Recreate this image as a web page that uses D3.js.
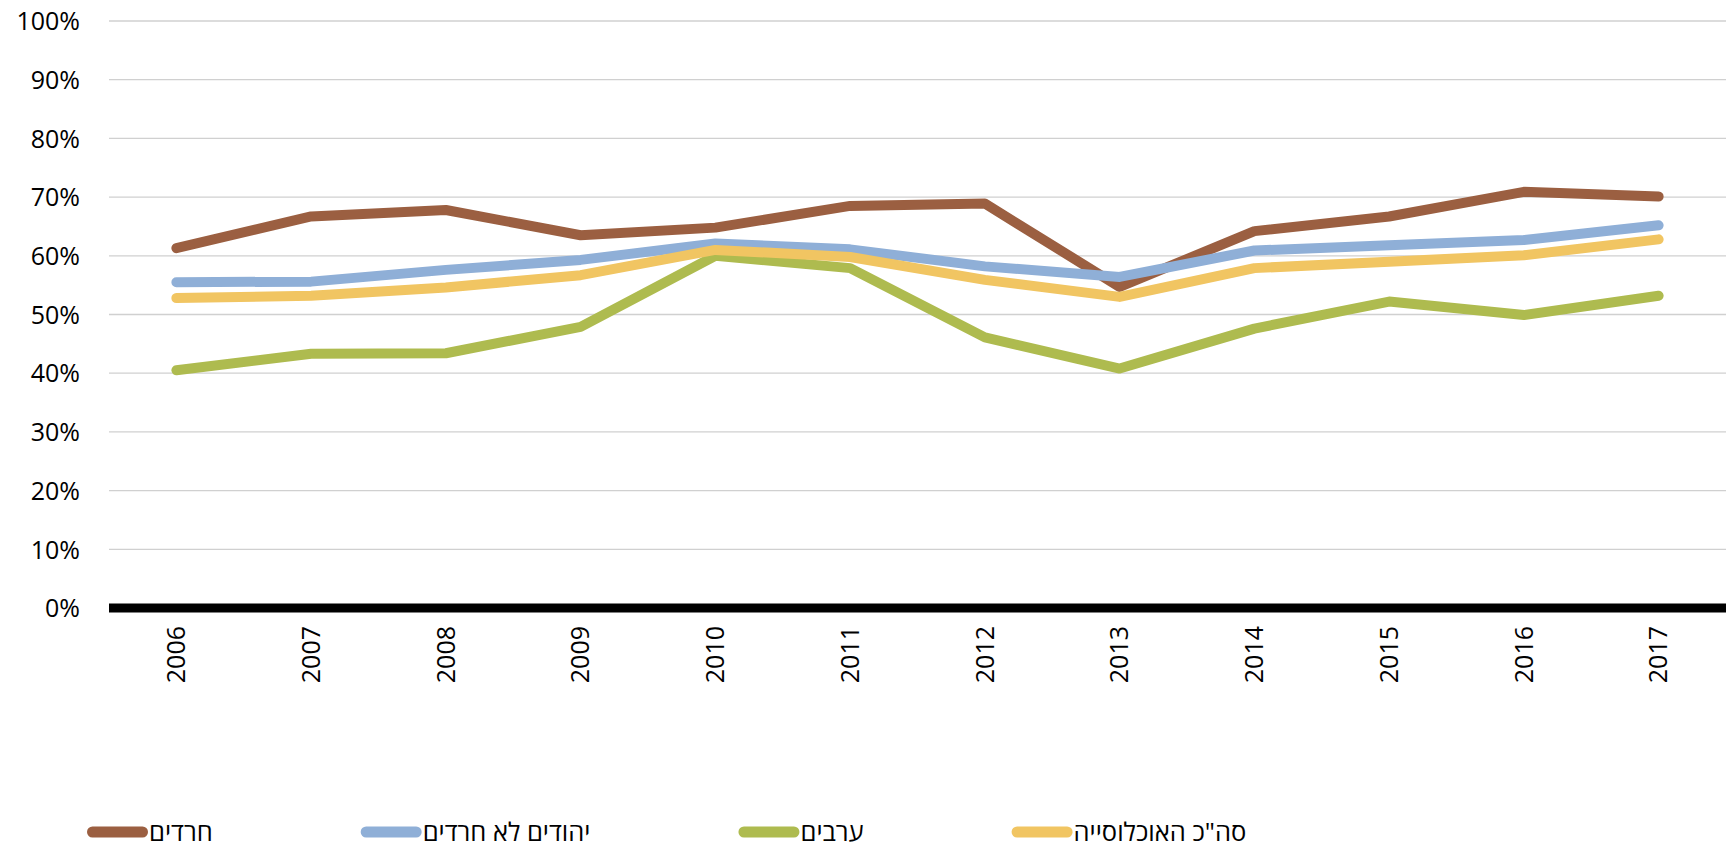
<!DOCTYPE html>
<html>
<head>
<meta charset="utf-8">
<script src="https://cdnjs.cloudflare.com/ajax/libs/d3/7.8.5/d3.min.js"></script>
<style>
  html, body { margin: 0; padding: 0; background: #ffffff; }
  svg { display: block; }
  text { font-family: "Open Sans", "Liberation Sans", "DejaVu Sans", sans-serif; fill: #000; }
</style>
</head>
<body>
<svg id="chart" width="1726" height="848"></svg>
<script>
// Years on the x axis
const years = ["2006", "2007", "2008", "2009", "2010", "2011", "2012", "2013", "2014", "2015", "2016", "2017"];

// Share (%) per population group
const haredim      = [61.3, 66.7, 67.8, 63.5, 64.8, 68.5, 68.9, 54.7, 64.2, 66.7, 70.9, 70.1];
const nonHaredim   = [55.5, 55.6, 57.6, 59.3, 62.1, 61.1, 58.2, 56.4, 60.9, 61.8, 62.7, 65.2];
const arabs        = [40.5, 43.3, 43.4, 47.9, 60.0, 57.9, 46.1, 40.8, 47.6, 52.2, 49.9, 53.2];
const totalPop     = [52.8, 53.2, 54.6, 56.7, 61.0, 59.8, 55.9, 53.0, 57.9, 59.0, 60.1, 62.8];

// Series names (legend order = drawing order)
const seriesNames  = ["חרדים", "יהודים לא חרדים", "ערבים", "סה\"כ האוכלוסייה"];
const seriesColors = ["#9b5f41", "#8fafd7", "#aebb4f", "#f1c562"];

// Y axis ticks
const yTicks = [0, 10, 20, 30, 40, 50, 60, 70, 80, 90, 100];

const series = [haredim, nonHaredim, arabs, totalPop].map((vals, i) => ({
  name: seriesNames[i],
  color: seriesColors[i],
  values: vals.map((v, j) => ({ year: years[j], value: v }))
}));

const svg = d3.select("#chart");
const plot = { left: 109, right: 1726, top: 21, bottom: 608 };

const x = d3.scaleBand().domain(years).range([plot.left, plot.right]).paddingInner(0).paddingOuter(0);
const y = d3.scaleLinear().domain([0, 100]).range([plot.bottom, plot.top]);

// Horizontal gridlines
svg.append("g")
  .selectAll("line")
  .data(yTicks.filter(t => t > 0))
  .join("line")
  .attr("x1", plot.left)
  .attr("x2", plot.right)
  .attr("y1", d => y(d))
  .attr("y2", d => y(d))
  .attr("stroke", "#d0d0d0")
  .attr("stroke-width", 1.3);

// Y axis labels
const yAxis = d3.axisLeft(y).tickValues(yTicks).tickFormat(d => d + "%").tickSize(0).tickPadding(0);
const gy = svg.append("g").attr("transform", `translate(${80},0)`).call(yAxis);
gy.select(".domain").remove();
gy.selectAll("text")
  .attr("font-size", 25)
  .attr("font-family", "'Open Sans', 'Liberation Sans', sans-serif")
  .attr("fill", "#000")
  .attr("dy", "0.35em");

// Series lines
const line = d3.line()
  .x(d => x(d.year) + x.bandwidth() / 2)
  .y(d => y(d.value));

svg.append("g")
  .selectAll("path")
  .data(series)
  .join("path")
  .attr("d", d => line(d.values))
  .attr("fill", "none")
  .attr("stroke", d => d.color)
  .attr("stroke-width", 10)
  .attr("stroke-linecap", "round")
  .attr("stroke-linejoin", "round");

// Thick zero baseline
svg.append("line")
  .attr("x1", plot.left)
  .attr("x2", plot.right)
  .attr("y1", y(0))
  .attr("y2", y(0))
  .attr("stroke", "#000")
  .attr("stroke-width", 9);

// X axis labels, rotated
const xAxis = d3.axisBottom(x).tickSize(0).tickPadding(0);
const gx = svg.append("g").attr("transform", `translate(0,${626})`).call(xAxis);
gx.select(".domain").remove();
gx.selectAll("text")
  .attr("font-size", 25)
  .attr("font-family", "'Open Sans', 'Liberation Sans', sans-serif")
  .attr("fill", "#000")
  .attr("text-anchor", "end")
  .attr("transform", "rotate(-90)")
  .attr("x", 0)
  .attr("y", 0)
  .attr("dy", "0.35em");

// Legend: swatch followed by label, items laid out left to right
const legend = svg.append("g").attr("transform", `translate(0,${832})`);
let cursor = 87;
series.forEach(s => {
  const g = legend.append("g").attr("transform", `translate(${cursor},0)`);
  g.append("line")
    .attr("x1", 5.5).attr("x2", 55.5)
    .attr("y1", 0).attr("y2", 0)
    .attr("stroke", s.color)
    .attr("stroke-width", 11)
    .attr("stroke-linecap", "round");
  const t = g.append("text")
    .attr("x", 62)
    .attr("y", 8.5)
    .attr("font-size", 25.5)
    .attr("text-anchor", "start")
    .text(s.name);
  const w = t.node().getComputedTextLength();
  cursor += 62 + w + 148;
});
</script>
</body>
</html>
